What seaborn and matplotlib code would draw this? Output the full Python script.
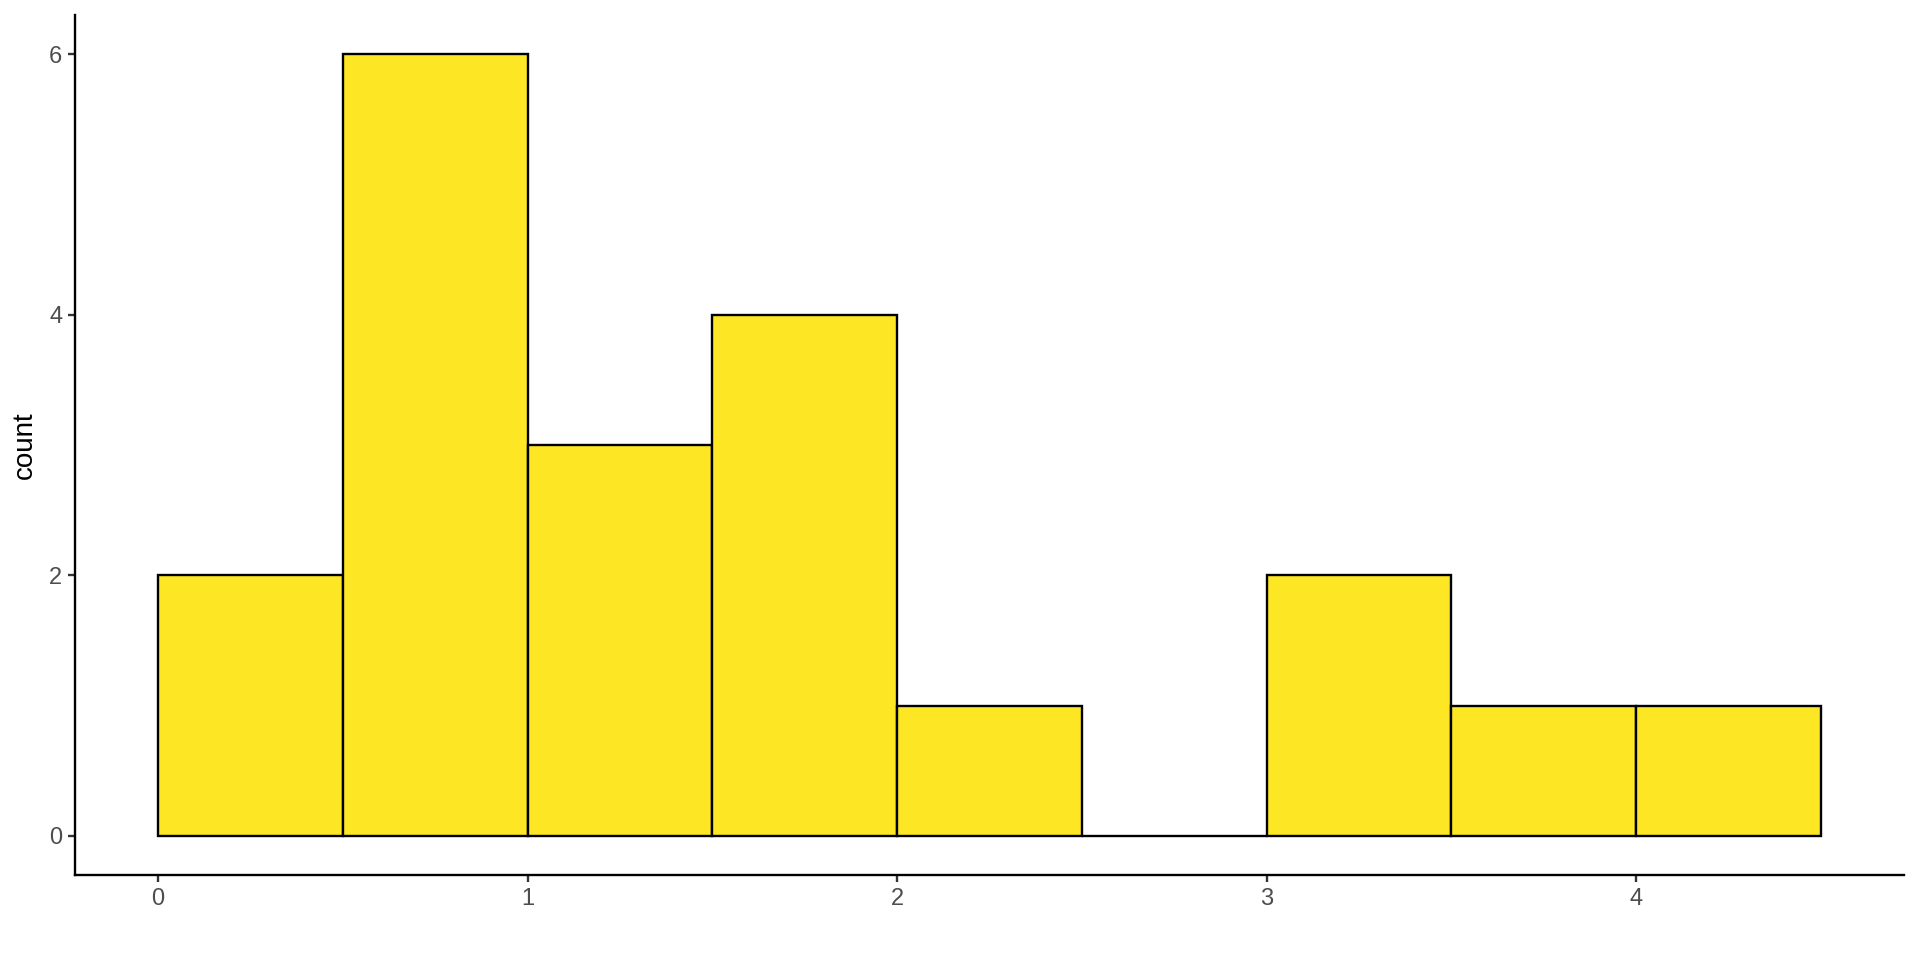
import numpy as np
import pandas as pd
import matplotlib
matplotlib.use("Agg")
import matplotlib.pyplot as plt
import seaborn as sns

# histogram bins (width 0.5) and counts
bin_edges = [0.0, 0.5, 1.0, 1.5, 2.0, 2.5, 3.0, 3.5, 4.0, 4.5]
counts = [2, 6, 3, 4, 1, 0, 2, 1, 1]
x_ticks = [0, 1, 2, 3, 4]
y_ticks = [0, 2, 4, 6]

centers = [(a + b) / 2 for a, b in zip(bin_edges[:-1], bin_edges[1:])]
df = pd.DataFrame({"value": centers, "n": counts})

sns.set_style("white")
plt.rcParams["font.family"] = ["Liberation Sans", "DejaVu Sans"]

fig = plt.figure(figsize=(19.2, 9.6), dpi=100)
ax = fig.add_axes([0.039, 0.0885, 0.9527, 0.8955])

sns.histplot(data=df, x="value", weights="n", bins=bin_edges,
             color="#FDE725", alpha=1, edgecolor="black", linewidth=1.7, ax=ax)

ax.set_xlim(-0.225, 4.725)
ax.set_ylim(-0.3, 6.3)
ax.set_xticks(x_ticks)
ax.set_yticks(y_ticks)
ax.set_xlabel("")
ax.set_ylabel("count", fontsize=20, color="black", labelpad=8)

for side in ["top", "right"]:
    ax.spines[side].set_visible(False)
for side in ["left", "bottom"]:
    ax.spines[side].set_linewidth(1.7)
    ax.spines[side].set_color("black")

ax.tick_params(axis="both", direction="out", length=5, width=1.7, color="#333333",
               labelsize=17, labelcolor="#4D4D4D", pad=4, bottom=True, left=True)
ax.grid(False)

fig.savefig("out.png", dpi=100)
